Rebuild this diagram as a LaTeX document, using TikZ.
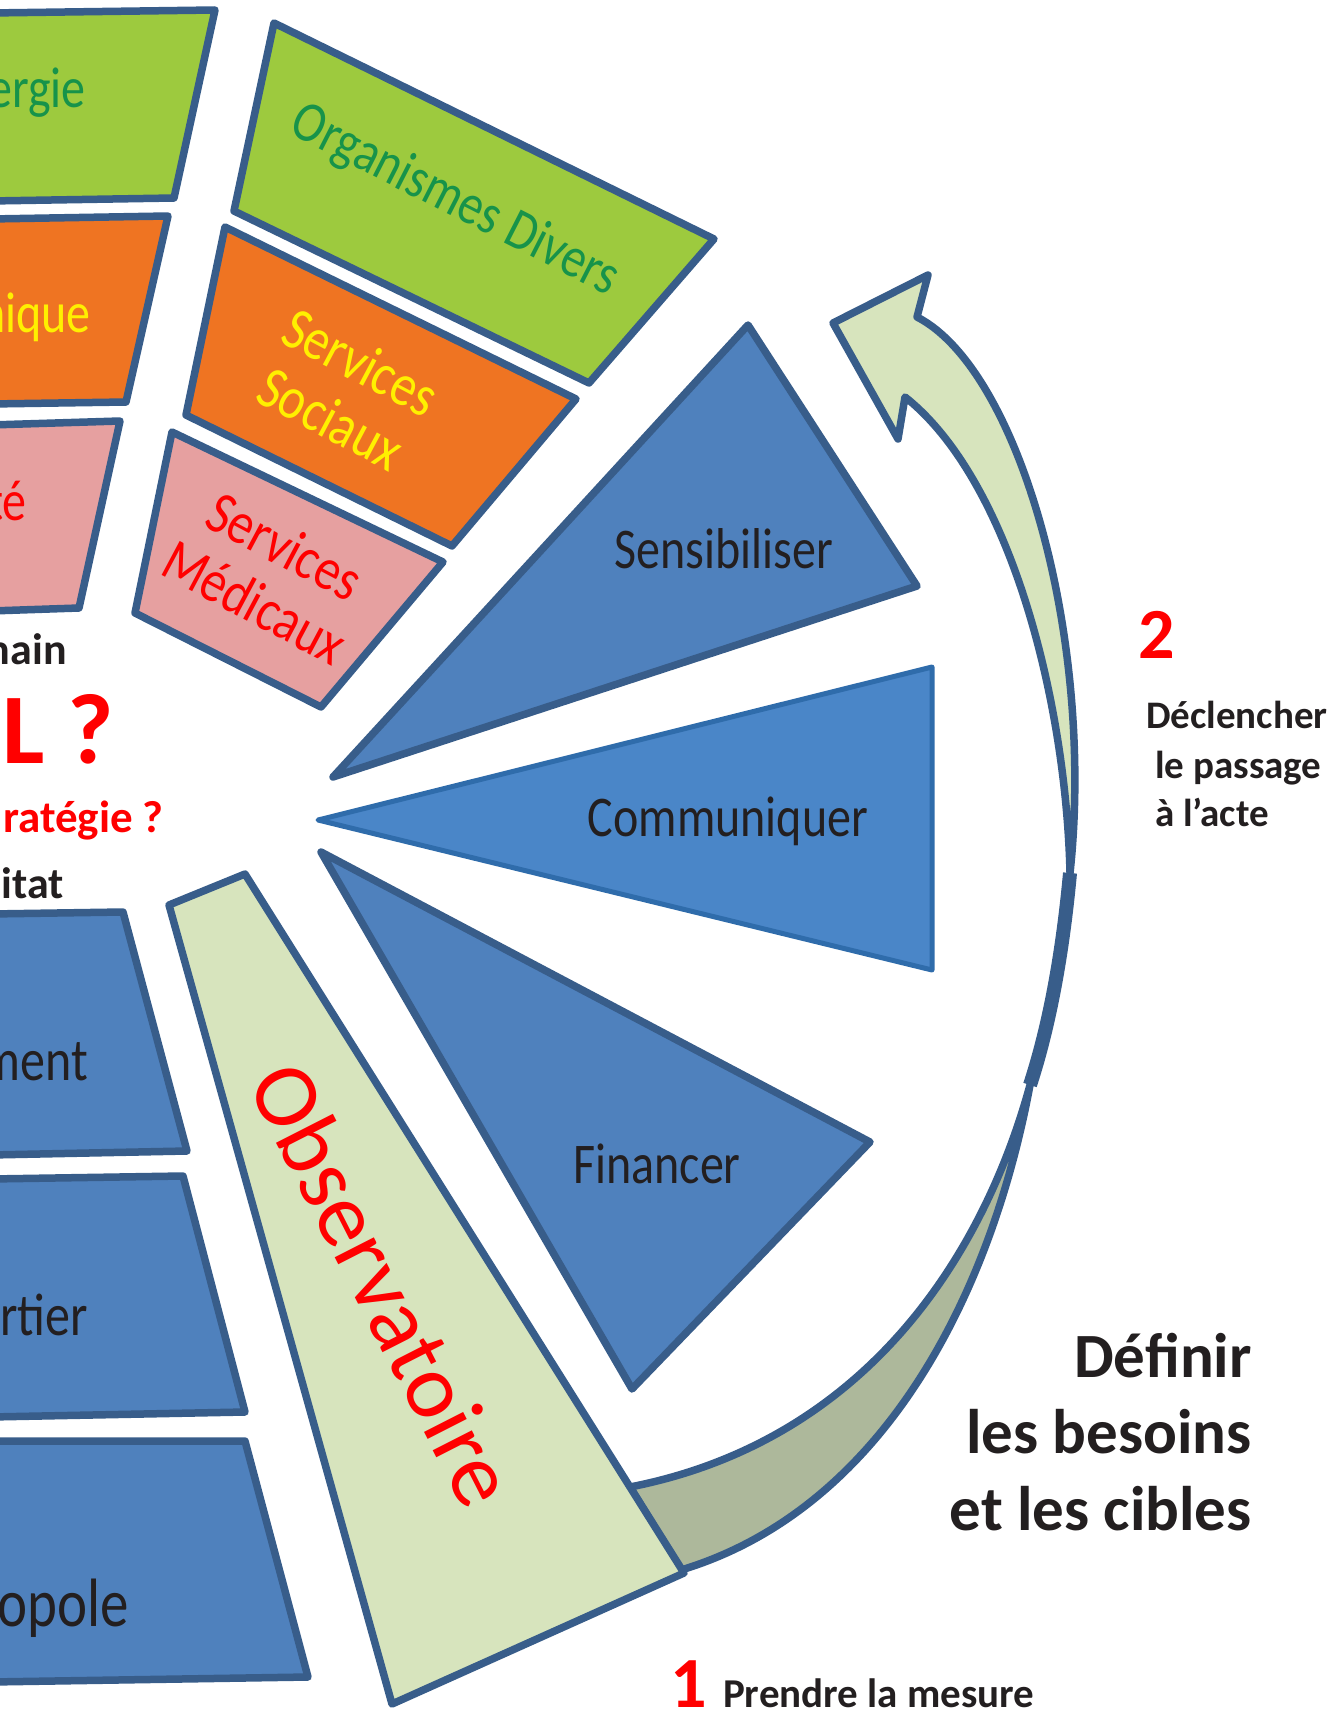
\documentclass[tikz,border=0pt]{standalone}
\usepackage{fontspec}
\setmainfont{Carlito}
\usetikzlibrary{positioning}
\definecolor{edge}{HTML}{385D8A}
\definecolor{commedge}{HTML}{2F6CAB}
\definecolor{tileblue}{HTML}{4F81BD}
\definecolor{commblue}{HTML}{4A86C8}
\definecolor{leafgreen}{HTML}{9DCA3E}
\definecolor{rust}{HTML}{EF7422}
\definecolor{rose}{HTML}{E6A0A0}
\definecolor{pale}{HTML}{D7E4BD}
\definecolor{sage}{HTML}{ADB89B}
\definecolor{ink}{HTML}{231F20}
\definecolor{leaftext}{HTML}{17934A}
\definecolor{sunny}{HTML}{FFF000}
\tikzset{
  tile/.style={draw=edge, line width=7.5pt, line join=round},
  boxlbl/.style={inner sep=0pt, yscale=1.2, font=\fontsize{48}{56}\selectfont},
  tag/.style={inner sep=0pt, font=\bfseries\fontsize{44}{52}\selectfont},
  side/.style={inner sep=0pt, text=ink, font=\bfseries\fontsize{39}{49}\selectfont},
  digit/.style={inner sep=0pt, text=red, font=\bfseries\fontsize{72}{72}\selectfont},
}
\begin{document}
\begin{tikzpicture}[x=1pt,y=-1pt]
\useasboundingbox (0,0) rectangle (1341,1710);

% left column, cut by the page edge
\draw[tile, fill=leafgreen] (-10,13) -- (215,10) -- (174,198) -- (-10,201) -- cycle;
\draw[tile, fill=rust] (-10,219) -- (168,216) -- (126,402) -- (-10,404) -- cycle;
\draw[tile, fill=rose] (-10,425) -- (120,421) -- (79,608) -- (-10,611) -- cycle;
\draw[tile, fill=tileblue] (-10,914) -- (123,912) -- (187,1151) -- (-10,1155) -- cycle;
\draw[tile, fill=tileblue] (-10,1179) -- (183,1176) -- (245,1412) -- (-10,1417) -- cycle;
\draw[tile, fill=tileblue] (-10,1441) -- (245,1441) -- (308,1677) -- (-10,1682) -- cycle;

% partners
\draw[tile, fill=leafgreen] (274,23) -- (714,239) -- (589,383) -- (234,211) -- cycle;
\draw[tile, fill=rust] (225,227) -- (576,399) -- (452,546) -- (186,415) -- cycle;
\draw[tile, fill=rose] (172,432) -- (443,562) -- (321,707) -- (135,613) -- cycle;

% actions
\draw[tile, fill=tileblue] (748,325) -- (917,586) -- (333,777) -- cycle;
\draw[tile, draw=commedge, line width=5pt, fill=commblue] (318,820) -- (932,667) -- (932,970) -- cycle;
\draw[tile, fill=tileblue] (321,852) -- (870,1142) -- (632,1389) -- cycle;

% twisted arrow: back face, observatory, front face
\coordinate (twistA) at (1070,873);
\coordinate (twistB) at (1030,1085);
\draw[tile, fill=sage] (twistB) .. controls (990,1300) and (880,1510) .. (681,1570)
  -- (630,1487) .. controls (870,1440) and (985,1250) .. (twistB) -- cycle;
\draw[tile, fill=pale] (169,905) -- (245,874) -- (684,1573) -- (392,1704) -- cycle;
\draw[tile, fill=pale] (917,317) -- (928,275) -- (833,323) -- (898,439) -- (905,397)
  .. controls (1010,480) and (1066,700) .. (twistA)
  .. controls (1095,640) and (1020,370) .. (917,317) -- cycle;
\draw[edge, line width=14pt] (twistA) .. controls (1062,960) and (1048,1030) .. (twistB);

% labels of the left column
\node[boxlbl, text=leaftext, anchor=base east] (energie) at (86,107) {ergie};
\node[boxlbl, text=sunny, anchor=base east] (economie) at (91,332) {nique};
\node[boxlbl, text=red, anchor=base east] (sante) at (27,520) {té};
\node[tag, text=ink, anchor=base east] (humain) at (67,664) {main};
\node[tag, text=red, anchor=base west, font=\bfseries\fontsize{100}{100}\selectfont] (quel) at (2,763) {L ?};
\node[tag, text=red, anchor=base east, font=\bfseries\fontsize{45}{52}\selectfont] (strat) at (164,832) {ratégie ?};
\node[tag, text=ink, anchor=base east] (habitat) at (64,898) {itat};
\node[boxlbl, text=ink, anchor=base east, font=\fontsize{50}{56}\selectfont] (logement) at (88,1080) {ment};
\node[boxlbl, text=ink, anchor=base east, font=\fontsize{50}{56}\selectfont] (quartier) at (88,1335) {rtier};
\node[boxlbl, text=ink, anchor=base east, font=\fontsize{57}{60}\selectfont] (metro) at (129,1626) {opole};

% labels of the partners
\node[rotate=-27, boxlbl, text=leaftext] (divers) at (455,201) {Organismes Divers};
\node[rotate=-28, boxlbl, text=sunny, align=center, font=\fontsize{50}{53}\selectfont] (sociaux) at (346,390) {Services\\Sociaux};
\node[rotate=-28, boxlbl, text=red, align=center, font=\fontsize{50}{53}\selectfont] (medicaux) at (270,574) {Services\\Médicaux};

% labels of the actions
\node[boxlbl, text=ink, anchor=base] (sensib) at (724,568) {Sensibiliser};
\node[boxlbl, text=ink, anchor=base] (commun) at (728,836) {Communiquer};
\node[boxlbl, text=ink, anchor=base] (financ) at (657,1183) {Financer};
\node[rotate=-63, inner sep=0pt, text=red, font=\fontsize{92}{92}\selectfont] (obs) at (384,1284) {Observatoire};

% steps
\node[digit, anchor=base west] (two) at (1138,658) {2};
\node[side, anchor=base west] (decl1) at (1146,728) {Déclencher};
\node[side, anchor=base west] (decl2) at (1155,778) {le passage};
\node[side, anchor=base west] (decl3) at (1155,826) {à l’acte};
\foreach \txt [count=\i] in {Définir, les besoins, et les cibles}
  \node[side, anchor=base east, font=\bfseries\fontsize{63}{76}\selectfont] (def\i) at (1252,{1377+76.5*(\i-1)}) {\txt};
\node[digit, anchor=base west] (one) at (670,1707) {1};
\node[side, anchor=base west, xshift=16pt, font=\bfseries\fontsize{41}{49}\selectfont] (mesure) at (one.base east) {Prendre la mesure};
\end{tikzpicture}
\end{document}
